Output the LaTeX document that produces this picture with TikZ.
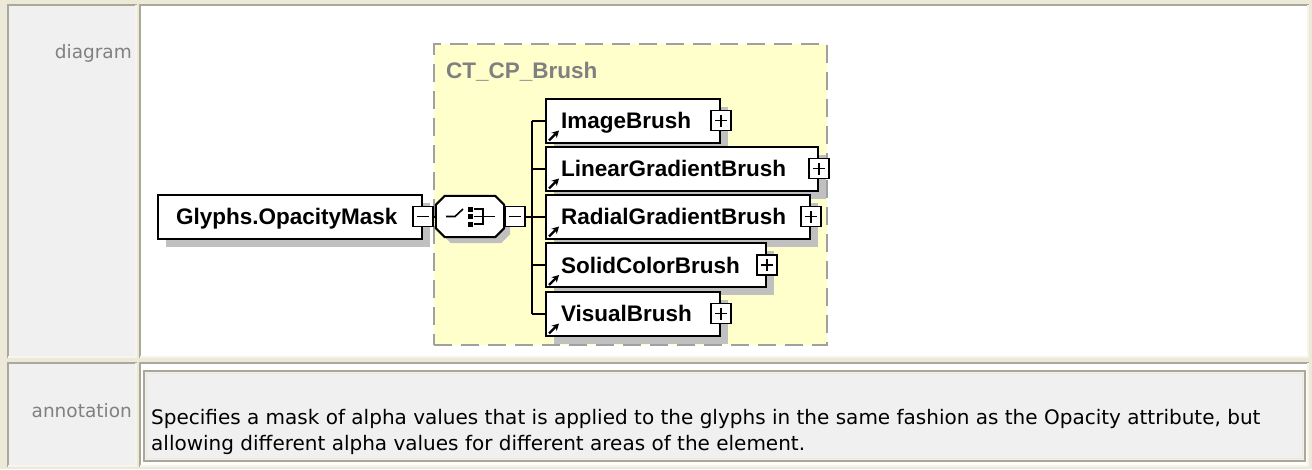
\documentclass[tikz,border=0pt]{standalone}
\usepackage{fontspec}
\setmainfont{DejaVu Sans}
\newfontfamily\boxfont{Liberation Sans}
\usepackage{xcolor}
\usetikzlibrary{arrows.meta,positioning,calc,shadows}
\definecolor{pagebeige}{HTML}{ECE9D8}
\definecolor{cellgray}{HTML}{F0F0F0}
\definecolor{framedark}{HTML}{ACA899}
\definecolor{framelight}{HTML}{F6F4EC}
\definecolor{labelgray}{HTML}{808080}
\definecolor{grpyellow}{HTML}{FFFFCC}
\definecolor{grpdash}{HTML}{A0A0A0}
\definecolor{shadowgray}{HTML}{C0C0C0}
\tikzset{
  darkedge/.style={draw=framedark, line width=2pt},
  lightedge/.style={draw=framelight, line width=2pt},
  rowlabel/.style={font=\fontsize{18.5}{22}\selectfont, text=labelgray, inner sep=0pt},
  notetext/.style={font=\fontsize{20}{26}\selectfont, align=left, inner sep=0pt},
  elembox/.style={draw, line width=2pt, fill=white,
                  font=\boxfont\bfseries\fontsize{22.5}{27}\selectfont,
                  minimum height=44pt, inner xsep=15pt, inner ysep=0pt,
                  text height=16pt, text depth=0pt, align=left, anchor=west,
                  drop shadow={shadow xshift=8pt, shadow yshift=-8pt,
                               fill=shadowgray, opacity=1}},
  choicebox/.style={minimum width=68pt, minimum height=41pt, inner sep=0pt},
  choiceshape/.style={draw, line width=2pt, fill=white,
                      drop shadow={shadow xshift=6pt, shadow yshift=-6pt,
                                   fill=shadowgray, opacity=1}},
  togglebox/.style={draw, line width=1.5pt, fill=white, minimum size=20pt, inner sep=0pt},
  minusbox/.style={togglebox, path picture={
      \draw[line width=1.5pt] ([xshift=-6pt]path picture bounding box.center)
                           -- ([xshift=6pt]path picture bounding box.center);}},
  plusbox/.style={togglebox, path picture={
      \draw[line width=1.5pt] ([xshift=-6pt]path picture bounding box.center)
                           -- ([xshift=6pt]path picture bounding box.center);
      \draw[line width=1.5pt] ([yshift=-6pt]path picture bounding box.center)
                           -- ([yshift=6pt]path picture bounding box.center);}},
  grpframe/.style={draw=grpdash, fill=grpyellow, line width=2pt,
                   dash pattern=on 18pt off 9pt, inner sep=0pt},
  grplabel/.style={font=\boxfont\bfseries\fontsize{22.5}{27}\selectfont,
                   text=labelgray, inner sep=0pt},
  wire/.style={line width=2pt},
  linkarrow/.style={-{Stealth[length=7pt,width=7.5pt]}, line width=2.4pt}
}
\begin{document}
\begin{tikzpicture}[x=1pt, y=-1pt]
    \def\xLbl{132} \def\xKid{545} \def\xBus{531.5} \def\cham{9}
    \useasboundingbox (0,0) rectangle (1312,469);

    % table frame
    \fill[pagebeige] (0,0) rectangle (1312,469);
    \fill[cellgray] (7,4) rectangle (137,358);
    \fill[white] (139,4) rectangle (1309,358);
    \fill[cellgray] (7,362) rectangle (137,467);
    \fill[white] (139,362) rectangle (1309,467);
    \draw[darkedge] (8,358) |- (137,5);
    \draw[lightedge] (136,5) |- (8,357);
    \draw[darkedge] (140,358) |- (1309,5);
    \draw[lightedge] (1308,5) |- (140,357);
    \draw[darkedge] (8,467) |- (137,363);
    \draw[lightedge] (136,363) |- (8,466);
    \draw[darkedge] (140,467) |- (1309,363);
    \draw[lightedge] (1308,363) |- (140,466);

    % annotation box
    \fill[cellgray] (143,370) rectangle (1306,462);
    \draw[darkedge] (144,371) rectangle (1305,461);
    \draw[draw=pagebeige, line width=1.5pt] (146.5,373.5) rectangle (1302.5,458.5);

    \node[rowlabel, anchor=base east] (diaglbl) at (\xLbl,58) {diagram};
    \node[rowlabel, anchor=base east] (annotlbl) at (\xLbl,417) {annotation};
    \node[notetext, anchor=base west] (annot) at (151,450) {Specifies a mask of alpha values that is applied to the glyphs in the same fashion as the Opacity attribute, but\\allowing different alpha values for different areas of the element.};

    % brush group
    \node[grpframe, minimum width=393pt, minimum height=301pt, anchor=north west] (brushgrp) at (433,43) {};
    \node[grplabel, anchor=base west] (brushlbl) at (446,78) {CT\_CP\_Brush};

    % element and choice
    \node[elembox, inner xsep=18pt, text width=228pt] (glyphs) at (157,216.5) {Glyphs.OpacityMask};
    \node[minusbox] (glyphsmin) at (glyphs.east) {};
    \node[choicebox] (choice) at (470,216.5) {};
    \path[choiceshape] ([xshift=\cham pt]choice.north west) -- ([xshift=-\cham pt]choice.north east)
      -- ([yshift=-\cham pt]choice.north east) -- ([yshift=\cham pt]choice.south east)
      -- ([xshift=-\cham pt]choice.south east) -- ([xshift=\cham pt]choice.south west)
      -- ([yshift=\cham pt]choice.south west) -- ([yshift=-\cham pt]choice.north west) -- cycle;
    \begin{scope}[shift={(choice.center)}, line width=1.6pt]
      \draw (-24,0) -- (-15,0) -- (-7,-7.5);
      \fill (-2.5,-10) rectangle (2.5,-5);
      \fill (-2.5,-2.5) rectangle (2.5,2.5);
      \fill (-2.5,5) rectangle (2.5,10);
      \draw (4,-7.3) -- (13,-7.3) -- (13,7.3) -- (4,7.3);
      \draw (4,0) -- (25,0);
    \end{scope}
    \node[minusbox] (choicemin) at (515,216.5) {};
    \coordinate (bus) at (\xBus,216.5);

    % children
    \node[elembox, text width=144pt] (img) at (\xKid,120.5) {ImageBrush};
    \node[plusbox] (imgplus) at (img.east) {};
    \node[elembox, text width=242pt] (lin) at (\xKid,168.5) {LinearGradientBrush};
    \node[plusbox] (linplus) at (lin.east) {};
    \node[elembox, text width=234pt] (rad) at (\xKid,216.5) {RadialGradientBrush};
    \node[plusbox] (radplus) at (rad.east) {};
    \node[elembox, text width=190pt] (sol) at (\xKid,265) {SolidColorBrush};
    \node[plusbox] (solplus) at (sol.east) {};
    \node[elembox, text width=144pt] (vis) at (\xKid,313.5) {VisualBrush};
    \node[plusbox] (visplus) at (vis.east) {};

    % reference arrows
    \draw[linkarrow] ($(img.south west)+(4,-3)$) -- ++(10,-10);
    \draw[linkarrow] ($(lin.south west)+(4,-3)$) -- ++(10,-10);
    \draw[linkarrow] ($(rad.south west)+(4,-3)$) -- ++(10,-10);
    \draw[linkarrow] ($(sol.south west)+(4,-3)$) -- ++(10,-10);
    \draw[linkarrow] ($(vis.south west)+(4,-3)$) -- ++(10,-10);

    % connectors
    \draw[wire] (glyphsmin.east) -- (choice.west);
    \draw[wire] (choice.east) -- (choicemin.west);
    \draw[wire] (choicemin.east) -- (bus);
    \draw[wire] (bus |- img.west) -- (bus |- vis.west);
    \draw[wire] (bus |- img.west) -- (img.west);
    \draw[wire] (bus |- lin.west) -- (lin.west);
    \draw[wire] (bus |- rad.west) -- (rad.west);
    \draw[wire] (bus |- sol.west) -- (sol.west);
    \draw[wire] (bus |- vis.west) -- (vis.west);
\end{tikzpicture}
\end{document}
